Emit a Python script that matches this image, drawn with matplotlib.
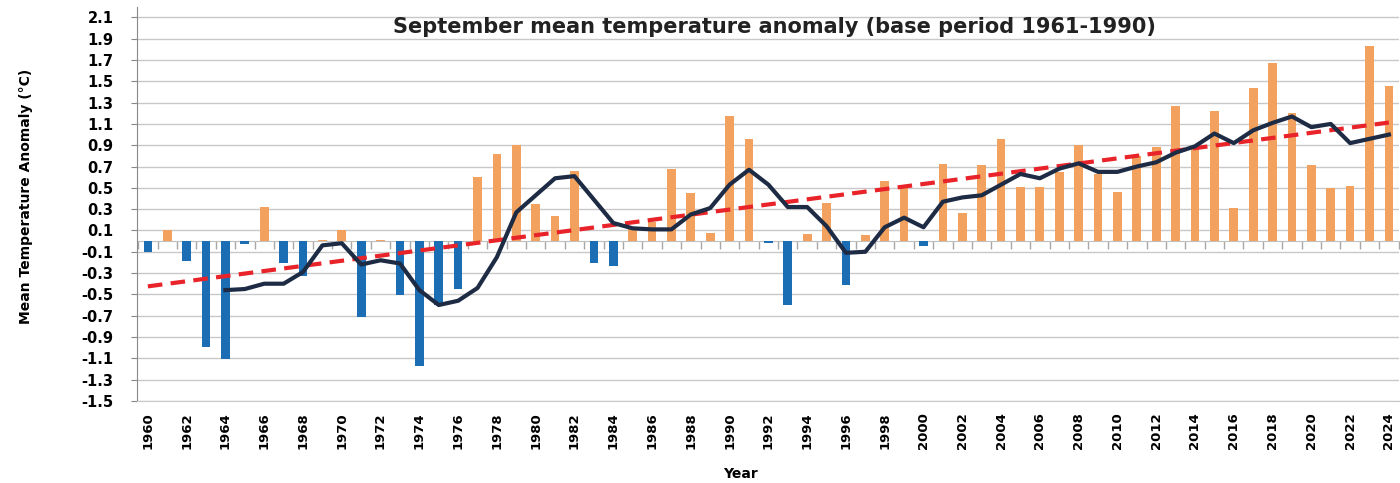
import numpy as np
import matplotlib
matplotlib.use("Agg")
import matplotlib.pyplot as plt

# September anomalies (deg C)
years = np.arange(1960, 2025)
anomaly = [-0.10, 0.10, -0.19, -0.99, -1.11, -0.03, 0.32, -0.21, -0.33, 0.01,
           0.10, -0.71, 0.01, -0.51, -1.17, -0.60, -0.45, 0.60, 0.82, 0.90,
           0.35, 0.24, 0.66, -0.21, -0.23, 0.11, 0.18, 0.68, 0.45, 0.08,
           1.17, 0.96, -0.02, -0.60, 0.07, 0.36, -0.41, 0.06, 0.56, 0.50,
           -0.05, 0.72, 0.26, 0.71, 0.96, 0.51, 0.51, 0.65, 0.90, 0.63,
           0.46, 0.80, 0.88, 1.27, 0.88, 1.22, 0.31, 1.44, 1.67, 1.20,
           0.71, 0.50, 0.52, 1.83, 1.46]

# smoothed curve, starts in 1964
smooth_years = np.arange(1964, 2025)
smooth = [-0.46, -0.45, -0.40, -0.40, -0.29, -0.04, -0.02, -0.22, -0.18, -0.21,
          -0.46, -0.60, -0.56, -0.44, -0.15, 0.27, 0.43, 0.59, 0.61, 0.39,
          0.17, 0.12, 0.11, 0.11, 0.25, 0.31, 0.53, 0.67, 0.53, 0.32,
          0.32, 0.14, -0.11, -0.10, 0.13, 0.22, 0.13, 0.37, 0.41, 0.43,
          0.53, 0.63, 0.59, 0.68, 0.73, 0.65, 0.65, 0.70, 0.74, 0.83,
          0.89, 1.01, 0.92, 1.04, 1.11, 1.17, 1.07, 1.10, 0.92, 0.96, 1.00]

yticks = np.arange(-1.5, 2.15, 0.2)

anom = np.array(anomaly)
cols = np.where(anom >= 0, '#F2A25E', '#1C6EB4')

fig = plt.figure(figsize=(14, 4.83), dpi=100)
ax = fig.add_axes([0.098, 0.170, 0.901, 0.816])

ymin, ymax = -1.5, 2.2
ax.set_ylim(ymin, ymax)
ax.set_xlim(years[0] - 0.55, years[-1] + 0.5)

ax.set_yticks(yticks)
ax.set_yticklabels(['%.1f' % v for v in yticks], fontweight='bold', fontsize=10.5)
ax.yaxis.grid(True, color='#C8C8C8', lw=1)
ax.set_axisbelow(True)

ax.bar(years, anom, width=0.45, color=cols, zorder=2)

# linear trend of the yearly values
k, b = np.polyfit(years, anom, 1)
ax.plot(years, k * years + b, color='#E8232A', lw=3, ls=(0, (3.5, 2)), zorder=3)

ax.plot(smooth_years, smooth, color='#1E2B44', lw=3, zorder=4)

ax.set_xticks(years[::2])
ax.set_xticklabels([str(y) for y in years[::2]], rotation=90,
                   fontweight='bold', fontsize=9.5)
ax.tick_params(axis='x', length=0, pad=8)
ax.tick_params(axis='y', length=4, color='#888888', pad=13)

for s in ['top', 'right']:
    ax.spines[s].set_visible(False)
ax.spines['left'].set_color('#888888')
ax.spines['bottom'].set_color('#C8C8C8')

# zero line with year separators
zero_frac = (0 - ymin) / (ymax - ymin)
sec = ax.secondary_xaxis(zero_frac)
sec.set_xticks(np.append(years - 0.5, years[-1] + 0.5))
sec.set_xticklabels([])
sec.tick_params(direction='out', length=6, color='#A8A8A8', width=1)
sec.spines['bottom'].set_color('#C0C0C0')

ax.text(0.505, 0.975, 'September mean temperature anomaly (base period 1961-1990)',
        transform=ax.transAxes, ha='center', va='top', fontsize=15,
        fontweight='bold', color='#222222')
ax.set_ylabel('Mean Temperature Anomaly (°C)', fontweight='bold', fontsize=10)
ax.yaxis.set_label_coords(-0.083, 0.52)
fig.text(0.529, 0.019, 'Year', ha='center', va='center', fontsize=10,
         fontweight='bold')

fig.savefig('out.png', dpi=100)
